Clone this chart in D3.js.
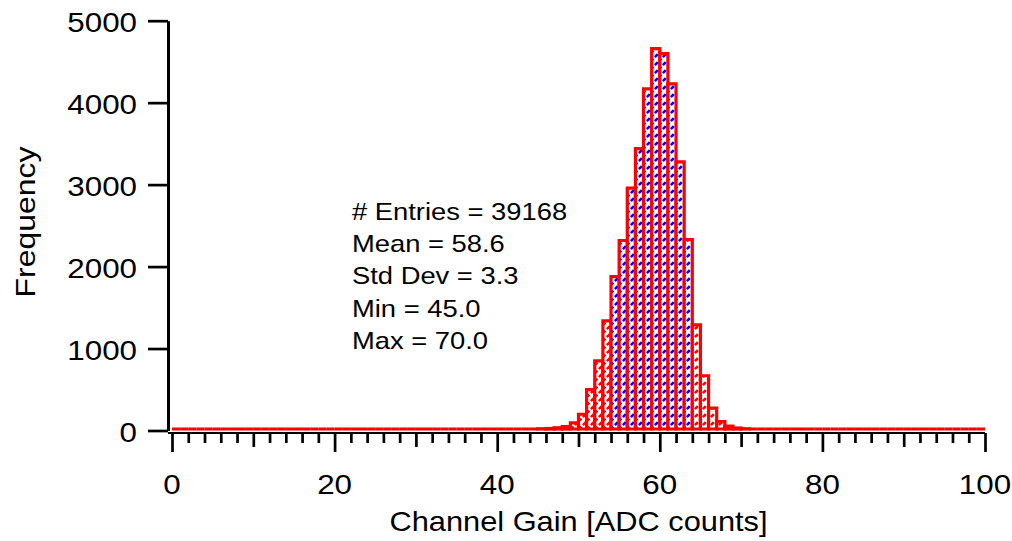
<!DOCTYPE html>
<html>
<head>
<meta charset="utf-8">
<script src="https://cdn.jsdelivr.net/npm/d3@7"></script>
<style>
  body { margin: 0; background: #fff; }
  svg { display: block; }
  text { font-family: "Liberation Sans", Arial, sans-serif; fill: #000; }
</style>
</head>
<body>
<svg id="chart" width="1012" height="541"></svg>
<script>
// counts per unit-wide bin, bins 0..99
const counts = [
  0, 0, 0, 0, 0, 0, 0, 0, 0, 0, 0, 0, 0, 0, 0, 0, 0, 0, 0, 0,
  0, 0, 0, 0, 0, 0, 0, 0, 0, 0, 0, 0, 0, 0, 0, 0, 0, 0, 0, 0,
  0, 0, 0, 0, 0, 3, 6, 15, 30, 75, 180, 480, 830, 1320, 1860, 2300, 2940, 3420, 4150, 4640,
  4580, 4210, 3260, 2310, 1270, 650, 255, 90, 35, 12, 3, 0, 0, 0, 0, 0, 0, 0, 0, 0,
  0, 0, 0, 0, 0, 0, 0, 0, 0, 0, 0, 0, 0, 0, 0, 0, 0, 0, 0, 0
];
const binWidth = 1;
const blueBins = [54, 64];   // bins drawn with blue hatching (lo inclusive, hi exclusive)
const yTicks = [0, 1000, 2000, 3000, 4000, 5000];
const xLabels = [0, 20, 40, 60, 80, 100];
const xMinor = d3.range(0, 101, 2);
const statLines = ['# Entries = 39168', 'Mean = 58.6', 'Std Dev = 3.3', 'Min = 45.0', 'Max = 70.0'];
const xTitle = 'Channel Gain [ADC counts]';
const yTitle = 'Frequency';

const stretch = 1.14;   // glyphs in the reference are a bit wider than Arial
const svg = d3.select('#chart');

const x = d3.scaleLinear().domain([0, 100]).range([172, 985]);
const y = d3.scaleLinear().domain([0, 5000]).range([430.5, 20.7]);

// hatch patterns
const defs = svg.append('defs');
function hatch(id, color) {
    const p = defs.append('pattern')
        .attr('id', id)
        .attr('patternUnits', 'userSpaceOnUse')
        .attr('width', 8)
        .attr('height', 8);
    p.append('rect').attr('width', 8).attr('height', 8).attr('fill', '#fff');
    p.append('path')
        .attr('d', 'M-1,1L1,-1M0,8L8,0M7,9L9,7')
        .attr('stroke', color)
        .attr('stroke-width', 2.6)
        .attr('stroke-dasharray', '2.6,2.3')
        .attr('fill', 'none');
}
hatch('hatch-red', '#ff0000');
hatch('hatch-blue', '#0000ff');

// bars (paths so that empty bins still leave their outline on the baseline)
const bins = counts.map((c, i) => ({ lo: i * binWidth, hi: (i + 1) * binWidth, c }));
const base = y(0) - 1.5;
svg.append('g')
    .selectAll('path')
    .data(bins)
    .join('path')
    .attr('d', d => {
        const x0 = x(d.lo), x1 = x(d.hi), top = y(d.c) - 1.5;
        return `M${x0},${base}V${top}H${x1}V${base}Z`;
    })
    .attr('fill', d => (d.lo >= blueBins[0] && d.lo < blueBins[1]) ? 'url(#hatch-blue)' : 'url(#hatch-red)')
    .attr('stroke', '#ff0000')
    .attr('stroke-width', 3.2);

// y axis
const yAxis = d3.axisLeft(y)
    .tickValues(yTicks)
    .tickSize(20)
    .tickSizeOuter(0)
    .tickFormat('');
const gy = svg.append('g')
    .attr('transform', 'translate(168,0)')
    .call(yAxis);
gy.select('.domain').attr('stroke', '#000').attr('stroke-width', 3);
gy.selectAll('.tick line').attr('stroke', '#000').attr('stroke-width', 2.7);

svg.append('g')
    .selectAll('text')
    .data(yTicks)
    .join('text')
    .attr('transform', d => `translate(137,${y(d) + 11.5}) scale(${stretch},1)`)
    .attr('text-anchor', 'end')
    .attr('font-size', 27.5)
    .text(d => d);

// x axis
const xAxis = d3.axisBottom(x)
    .tickValues(xMinor)
    .tickSize(10)
    .tickSizeOuter(0)
    .tickFormat('');
const gx = svg.append('g')
    .attr('transform', 'translate(0,433)')
    .call(xAxis);
gx.select('.domain').attr('stroke', '#000').attr('stroke-width', 2.2)
    .attr('d', `M168,0H${x(100)}`);
gx.selectAll('.tick line')
    .attr('stroke', '#000')
    .attr('stroke-width', 2.7)
    .attr('y2', d => d % 20 === 0 ? 19 : (d % 10 === 0 ? 14 : 10));

svg.append('g')
    .selectAll('text')
    .data(xLabels)
    .join('text')
    .attr('transform', d => `translate(${x(d)},494) scale(${stretch},1)`)
    .attr('text-anchor', 'middle')
    .attr('font-size', 27.5)
    .text(d => d);

// titles
svg.append('text')
    .attr('transform', `translate(${(x(0) + x(100)) / 2},531) scale(${stretch},1)`)
    .attr('text-anchor', 'middle')
    .attr('font-size', 27)
    .text(xTitle);

svg.append('text')
    .attr('transform', `translate(35,222) rotate(-90) scale(${stretch},1)`)
    .attr('text-anchor', 'middle')
    .attr('font-size', 28)
    .text(yTitle);

// stats box
svg.append('g')
    .selectAll('text')
    .data(statLines)
    .join('text')
    .attr('transform', (d, i) => `translate(352,${220 + i * 32.2}) scale(${stretch},1)`)
    .attr('font-size', 24)
    .text(d => d);
</script>
</body>
</html>
